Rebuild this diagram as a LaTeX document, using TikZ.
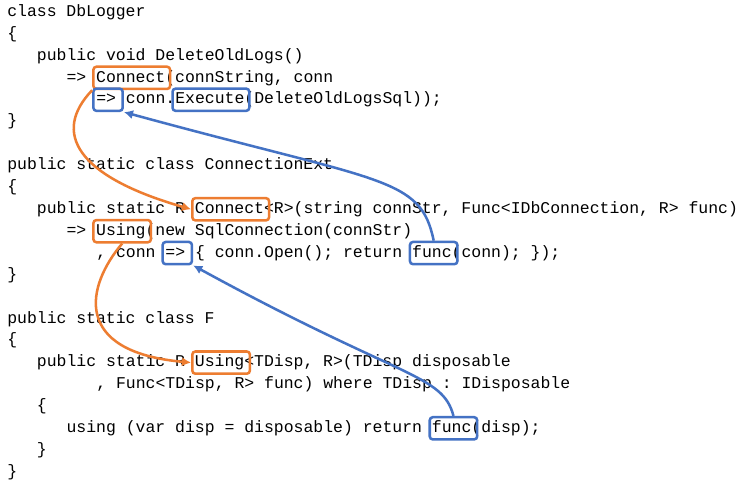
\documentclass[tikz,border=0pt]{standalone}
\usepackage{fontspec}
\setmonofont{Liberation Mono}
\usetikzlibrary{arrows.meta}
\tikzset{>=latex}
\definecolor{codeorange}{RGB}{237,125,49}
\definecolor{codeblue}{RGB}{68,114,196}
\tikzset{codeline/.style = {anchor=west, inner sep=0pt,
font=\fontsize{16.3pt}{18pt}\selectfont\ttfamily}}
\tikzset{obox/.style = {draw=codeorange, line width=2.5pt, rounded corners=3pt,
anchor=west, minimum height=22pt, inner sep=0pt}}
\tikzset{bbox/.style = {obox, draw=codeblue}}
\tikzset{oarrow/.style = {draw=codeorange, line width=2.5pt, -{Latex[length=9pt,width=9pt]}}}
\tikzset{barrow/.style = {oarrow, draw=codeblue}}

\begin{document}
\begin{tikzpicture}[x=9.8pt,y=-21.7pt]
                \useasboundingbox[fill=white] (-0.714,-0.553) rectangle (75.1,21.61);
                \node[codeline] (l0) at (0,0) {class DbLogger};
                \node[codeline] (l1) at (0,1) {\{};
                \node[codeline] (l2) at (3,2) {public void DeleteOldLogs()};
                \node[codeline] (l3) at (6,3) {=> Connect(connString, conn};
                \node[codeline] (l4) at (9,4) {=> conn.Execute(DeleteOldLogsSql));};
                \node[codeline] (l5) at (0,5) {\}};
                \node[codeline] (l7) at (0,7) {public static class ConnectionExt};
                \node[codeline] (l8) at (0,8) {\{};
                \node[codeline] (l9) at (3,9) {public static R Connect<R>(string connStr, Func<IDbConnection, R> func)};
                \node[codeline] (l10) at (6,10) {=> Using(new SqlConnection(connStr)};
                \node[codeline] (l11) at (9,11) {, conn => \{ conn.Open(); return func(conn); \});};
                \node[codeline] (l12) at (0,12) {\}};
                \node[codeline] (l14) at (0,14) {public static class F};
                \node[codeline] (l15) at (0,15) {\{};
                \node[codeline] (l16) at (3,16) {public static R Using<TDisp, R>(TDisp disposable};
                \node[codeline] (l17) at (9,17) {, Func<TDisp, R> func) where TDisp : IDisposable};
                \node[codeline] (l18) at (3,18) {\{};
                \node[codeline] (l19) at (6,19) {using (var disp = disposable) return func(disp);};
                \node[codeline] (l20) at (3,20) {\}};
                \node[codeline] (l21) at (0,21) {\}};

                % highlight boxes
                \node[obox, minimum width=76pt] (connA) at (8.6,3) {};
                \node[bbox, minimum width=29pt] (lamA) at (8.6,4) {};
                \node[bbox, minimum width=76pt] (execA) at (16.6,4) {};
                \node[obox, minimum width=76pt] (connB) at (18.6,9) {};
                \node[obox, minimum width=57pt] (usingA) at (8.6,10) {};
                \node[bbox, minimum width=29pt] (lamB) at (15.6,11) {};
                \node[bbox, minimum width=47pt] (funcA) at (40.6,11) {};
                \node[obox, minimum width=57pt] (usingB) at (18.6,16) {};
                \node[bbox, minimum width=47pt] (funcB) at (42.6,19) {};

                % call flow
                \draw[oarrow] (connA.south west) .. controls (4.5,5.5) and (7,7.5) .. (connB.west);
                \draw[oarrow] (usingA.south) .. controls (8,12.5) and (6.5,15.5) .. (usingB.west);
                \draw[barrow] (funcA.north) .. controls (41.8,7.5) and (38,7.8) .. (lamA.south east);
                \draw[barrow] (funcB.north) .. controls (44,16.5) and (40,16.8) .. (lamB.south east);
            \end{tikzpicture}
\end{document}
